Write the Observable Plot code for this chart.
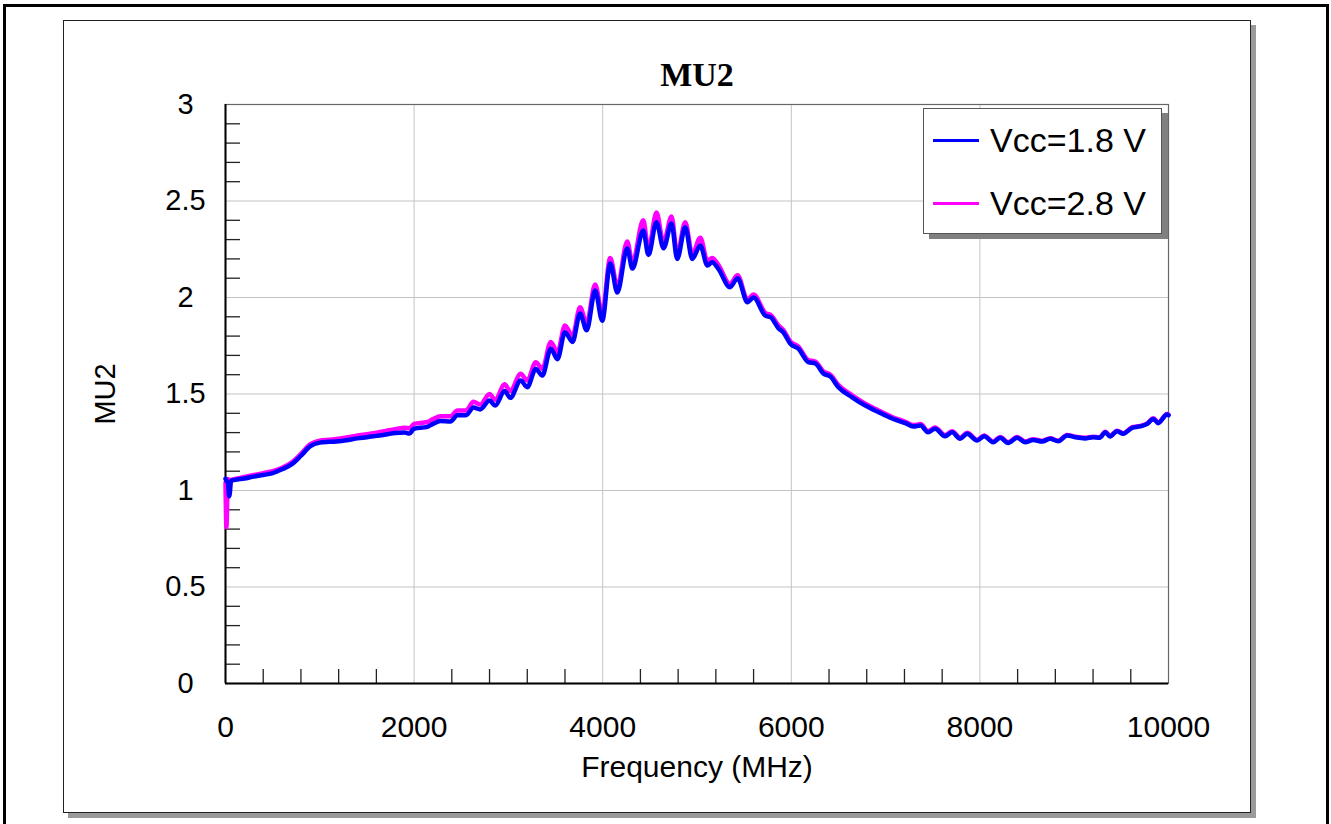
<!DOCTYPE html>
<html>
<head>
<meta charset="utf-8">
<script src="https://cdn.jsdelivr.net/npm/d3@7"></script>
<script src="https://cdn.jsdelivr.net/npm/@observablehq/plot@0.6"></script>
<style>
  html, body { margin: 0; padding: 0; background: #fff; overflow: hidden; }
  #wrap { position: relative; width: 1331px; height: 824px; overflow: hidden; }
  #chart { position: absolute; left: 0; top: 0; }
  .outer { position: absolute; left: 3px; top: 4px; width: 1320px; height: 840px; border: 3px solid #000; }
  .panel { position: absolute; left: 63px; top: 20px; width: 1186px; height: 791px; border: 1.5px solid #222; box-shadow: 5px 5px 0 #9a9a9a; }
  .legend { position: absolute; left: 923px; top: 108px; width: 237px; height: 124px; border: 1px solid #555; background: #fff; box-shadow: 6px 5px 0 #808080; font-family: "Liberation Sans", Arial, sans-serif; font-size: 34px; color: #000; }
  .legend .sw { position: absolute; left: 9px; width: 46px; height: 3px; }
  .legend .lb { position: absolute; left: 66px; line-height: 34px; white-space: nowrap; }
</style>
</head>
<body>
<div id="wrap">
  <div class="outer"></div>
  <div class="panel"></div>
  <div id="chart"></div>
  <div class="legend" id="legend"></div>
</div>
<script>
// ---- data ----
const freq = [0, 10, 25, 40, 60, 100, 200, 300, 400, 500, 600, 700, 800, 900, 1000, 1100, 1200, 1300, 1400, 1500, 1600, 1700, 1800, 1900, 1950, 2000,
  2140, 2200, 2280, 2385, 2460, 2550, 2630, 2700, 2800, 2860, 2960, 3020, 3130, 3200, 3290, 3360, 3450, 3520, 3600, 3680, 3760, 3830, 3920, 3995,
  4080, 4155, 4260, 4315, 4430, 4485, 4570, 4645, 4730, 4790, 4875, 4950, 5035, 5110, 5160, 5225, 5350, 5430, 5535, 5600, 5725, 5780, 5865, 5915, 5990,
  6075, 6180, 6255, 6340, 6415, 6500, 6645, 6785, 6925, 7070, 7210, 7295, 7370, 7450, 7525, 7630, 7705, 7790, 7865, 7970,
  8045, 8140, 8215, 8300, 8395, 8480, 8565, 8660, 8745, 8830, 8925, 9010, 9115, 9200, 9270, 9330, 9380, 9455, 9520, 9615, 9700, 9775, 9840, 9890, 9985, 10000];

const mu2Vcc18 = [1.06, 1.05, 1.04, 0.97, 1.05, 1.055, 1.062, 1.072, 1.08, 1.09, 1.11, 1.135, 1.18, 1.23, 1.248, 1.252, 1.255, 1.262, 1.27, 1.276, 1.283, 1.29, 1.298, 1.30, 1.295, 1.32,
  1.33, 1.345, 1.36, 1.357, 1.39, 1.39, 1.43, 1.42, 1.466, 1.44, 1.515, 1.48, 1.57, 1.535, 1.63, 1.596, 1.735, 1.68, 1.82, 1.77, 1.917, 1.83, 2.036, 1.88,
  2.176, 2.026, 2.254, 2.15, 2.347, 2.22, 2.39, 2.255, 2.383, 2.20, 2.364, 2.20, 2.27, 2.166, 2.183, 2.15, 2.053, 2.10, 1.976, 2.0, 1.906, 1.898, 1.84, 1.82, 1.76,
  1.735, 1.665, 1.658, 1.606, 1.59, 1.535, 1.483, 1.44, 1.406, 1.373, 1.349, 1.332, 1.337, 1.302, 1.32, 1.281, 1.302, 1.268, 1.294, 1.259,
  1.281, 1.25, 1.273, 1.246, 1.273, 1.25, 1.262, 1.254, 1.268, 1.255, 1.285, 1.276, 1.27, 1.276, 1.273, 1.302, 1.28, 1.307, 1.294, 1.325, 1.332, 1.345, 1.371, 1.349, 1.394, 1.39];

const mu2Vcc28 = [1.04, 0.81, 1.06, 1.05, 1.055, 1.06, 1.07, 1.08, 1.09, 1.10, 1.118, 1.145, 1.19, 1.24, 1.258, 1.263, 1.268, 1.276, 1.285, 1.292, 1.30, 1.309, 1.318, 1.325, 1.322, 1.345,
  1.355, 1.37, 1.385, 1.385, 1.415, 1.415, 1.46, 1.445, 1.50, 1.47, 1.55, 1.515, 1.605, 1.57, 1.665, 1.63, 1.77, 1.715, 1.855, 1.80, 1.95, 1.865, 2.067, 1.917,
  2.205, 2.055, 2.29, 2.18, 2.40, 2.25, 2.44, 2.285, 2.42, 2.225, 2.39, 2.225, 2.31, 2.19, 2.205, 2.17, 2.07, 2.115, 1.99, 2.015, 1.92, 1.91, 1.855, 1.832, 1.772,
  1.746, 1.676, 1.668, 1.617, 1.60, 1.546, 1.493, 1.45, 1.415, 1.381, 1.356, 1.339, 1.344, 1.308, 1.326, 1.287, 1.307, 1.273, 1.299, 1.263,
  1.285, 1.254, 1.277, 1.25, 1.277, 1.254, 1.266, 1.257, 1.271, 1.258, 1.288, 1.279, 1.273, 1.279, 1.276, 1.305, 1.283, 1.31, 1.297, 1.328, 1.335, 1.348, 1.374, 1.352, 1.397, 1.393];

const seriesNames = ["Vcc=1.8 V", "Vcc=2.8 V"];
const seriesColors = ["#0000ff", "#ff00ff"];
const xTicks = [0, 2000, 4000, 6000, 8000, 10000];
const xMinor = [400, 800, 1200, 1600, 2400, 2800, 3200, 3600, 4400, 4800, 5200, 5600, 6400, 6800, 7200, 7600, 8400, 8800, 9200, 9600];
const yTicks = [0, 0.5, 1, 1.5, 2, 2.5, 3];
const yMinor = [0.1, 0.2, 0.3, 0.4, 0.6, 0.7, 0.8, 0.9, 1.1, 1.2, 1.3, 1.4, 1.6, 1.7, 1.8, 1.9, 2.1, 2.2, 2.3, 2.4, 2.6, 2.7, 2.8, 2.9];
const chartTitle = "MU2";
const xLabel = "Frequency (MHz)";
const yLabel = "MU2";

// ---- build ----
const rows18 = freq.map((f, i) => ({f, v: mu2Vcc18[i]}));
const rows28 = freq.map((f, i) => ({f, v: mu2Vcc28[i]}));

const W = 1331, H = 824, mL = 225, mR = 163, mT = 104, mB = 141;
const fw = W - mL - mR, fh = H - mT - mB;

const chart = Plot.plot({
  width: W, height: H,
  marginLeft: mL, marginRight: mR, marginTop: mT, marginBottom: mB,
  x: {domain: [0, 10000]},
  y: {domain: [0, 3]},
  style: {fontFamily: "'Liberation Sans', Arial, sans-serif", fontSize: "30px", background: "transparent", color: "#000", overflow: "visible"},
  marks: [
    Plot.gridX(xTicks, {stroke: "#c4c4c4", strokeOpacity: 1, strokeWidth: 1}),
    Plot.gridY(yTicks, {stroke: "#c4c4c4", strokeOpacity: 1, strokeWidth: 1}),
    Plot.ruleX(xMinor, {stroke: "#222", strokeWidth: 1.3, insetTop: fh - 14}),
    Plot.ruleY(yMinor, {stroke: "#222", strokeWidth: 1.3, insetRight: fw - 15}),
    Plot.frame({stroke: "#666", strokeWidth: 1.2}),
    Plot.ruleX([0], {stroke: "#000", strokeWidth: 2}),
    Plot.ruleY([0], {stroke: "#000", strokeWidth: 2}),
    Plot.line(rows28, {x: "f", y: "v", stroke: seriesColors[1], strokeWidth: 4.5, curve: "monotone-x"}),
    Plot.line(rows18, {x: "f", y: "v", stroke: seriesColors[0], strokeWidth: 4.5, curve: "monotone-x"}),
    Plot.axisX(xTicks, {tickSize: 0, tickPadding: 32, tickFormat: d => String(d), label: null, fontSize: 30}),
    Plot.axisY(yTicks, {tickSize: 0, tickPadding: 0, textAnchor: "middle", dx: -40, tickFormat: d => String(d), label: null, fontSize: 29}),
    Plot.text([xLabel], {text: d => d, frameAnchor: "bottom", lineAnchor: "middle", textAnchor: "middle", dy: 84, fontSize: 30}),
    Plot.text([yLabel], {text: d => d, frameAnchor: "left", lineAnchor: "middle", textAnchor: "middle", dx: -120, rotate: -90, fontSize: 29}),
    Plot.text([chartTitle], {text: d => d, frameAnchor: "top", lineAnchor: "middle", textAnchor: "middle", dy: -29, fontSize: 34, fontWeight: "bold", fontFamily: "'Liberation Serif', 'Times New Roman', serif"})
  ]
});
document.getElementById("chart").appendChild(chart);

// ---- legend ----
const legend = document.getElementById("legend");
const rowY = [31, 94];
seriesNames.forEach((name, i) => {
  const sw = document.createElement("div");
  sw.className = "sw";
  sw.style.top = (rowY[i] - 1.5) + "px";
  sw.style.background = seriesColors[i];
  legend.appendChild(sw);
  const lb = document.createElement("div");
  lb.className = "lb";
  lb.style.top = (rowY[i] - 17) + "px";
  lb.textContent = name;
  legend.appendChild(lb);
});
</script>
</body>
</html>
